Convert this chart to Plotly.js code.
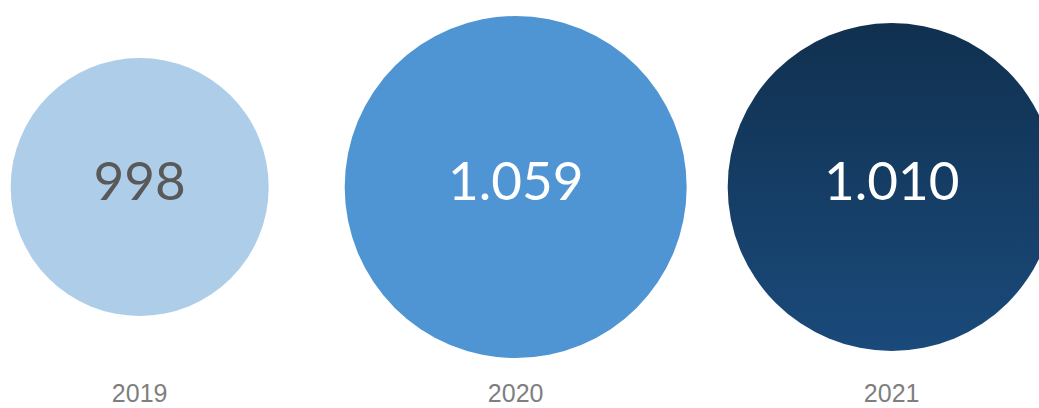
<!DOCTYPE html>
<html>
<head>
<meta charset="utf-8">
<script src="https://cdn.plot.ly/plotly-3.0.1.min.js"></script>
<style>
  html, body { margin: 0; padding: 0; background: #ffffff; }
  #chart { width: 1039px; height: 408px; }
</style>
</head>
<body>
<div id="chart"></div>
<script>
// ---- data ----
var years = ['2019', '2020', '2021'];
var values = [998, 1059, 1010];

// ---- style ----
var bubbleSizes = [258, 342, 328];
var fillColors = ['#AECDE9', '#4F95D3', '#10304F'];
var gradientTypes = ['none', 'none', 'vertical'];
var gradientColors = ['#AECDE9', '#4F95D3', '#1A4A7B'];
var textColors = ['#595959', '#ffffff', '#ffffff'];

function fmt(v) {
  return String(v).replace(/\B(?=(\d{3})+(?!\d))/g, '.');
}

var trace = {
  type: 'scatter',
  mode: 'markers+text',
  x: years,
  y: years.map(function () { return 0; }),
  text: values.map(fmt),
  textposition: 'middle center',
  textfont: { family: 'Lato, "Open Sans", sans-serif', size: 53, color: textColors },
  marker: {
    size: bubbleSizes,
    color: fillColors,
    opacity: 1,
    line: { width: 0 },
    gradient: { type: gradientTypes, color: gradientColors }
  },
  cliponaxis: false,
  hoverinfo: 'skip',
  showlegend: false
};

var layout = {
  width: 1039,
  height: 408,
  margin: { l: 0, r: 0, t: 0, b: 34 },
  paper_bgcolor: '#ffffff',
  plot_bgcolor: '#ffffff',
  xaxis: {
    type: 'category',
    range: [-0.3715, 2.3918],
    showgrid: false,
    zeroline: false,
    showline: false,
    ticks: '',
    ticklabelstandoff: 2,
    tickfont: { family: '"Liberation Sans", Arial, sans-serif', size: 25, color: '#7F7F7F' },
    fixedrange: true
  },
  yaxis: {
    range: [-1, 1],
    visible: false,
    showgrid: false,
    zeroline: false,
    fixedrange: true
  },
  showlegend: false
};

Plotly.newPlot('chart', [trace], layout, { staticPlot: true, displayModeBar: false });
</script>
</body>
</html>
